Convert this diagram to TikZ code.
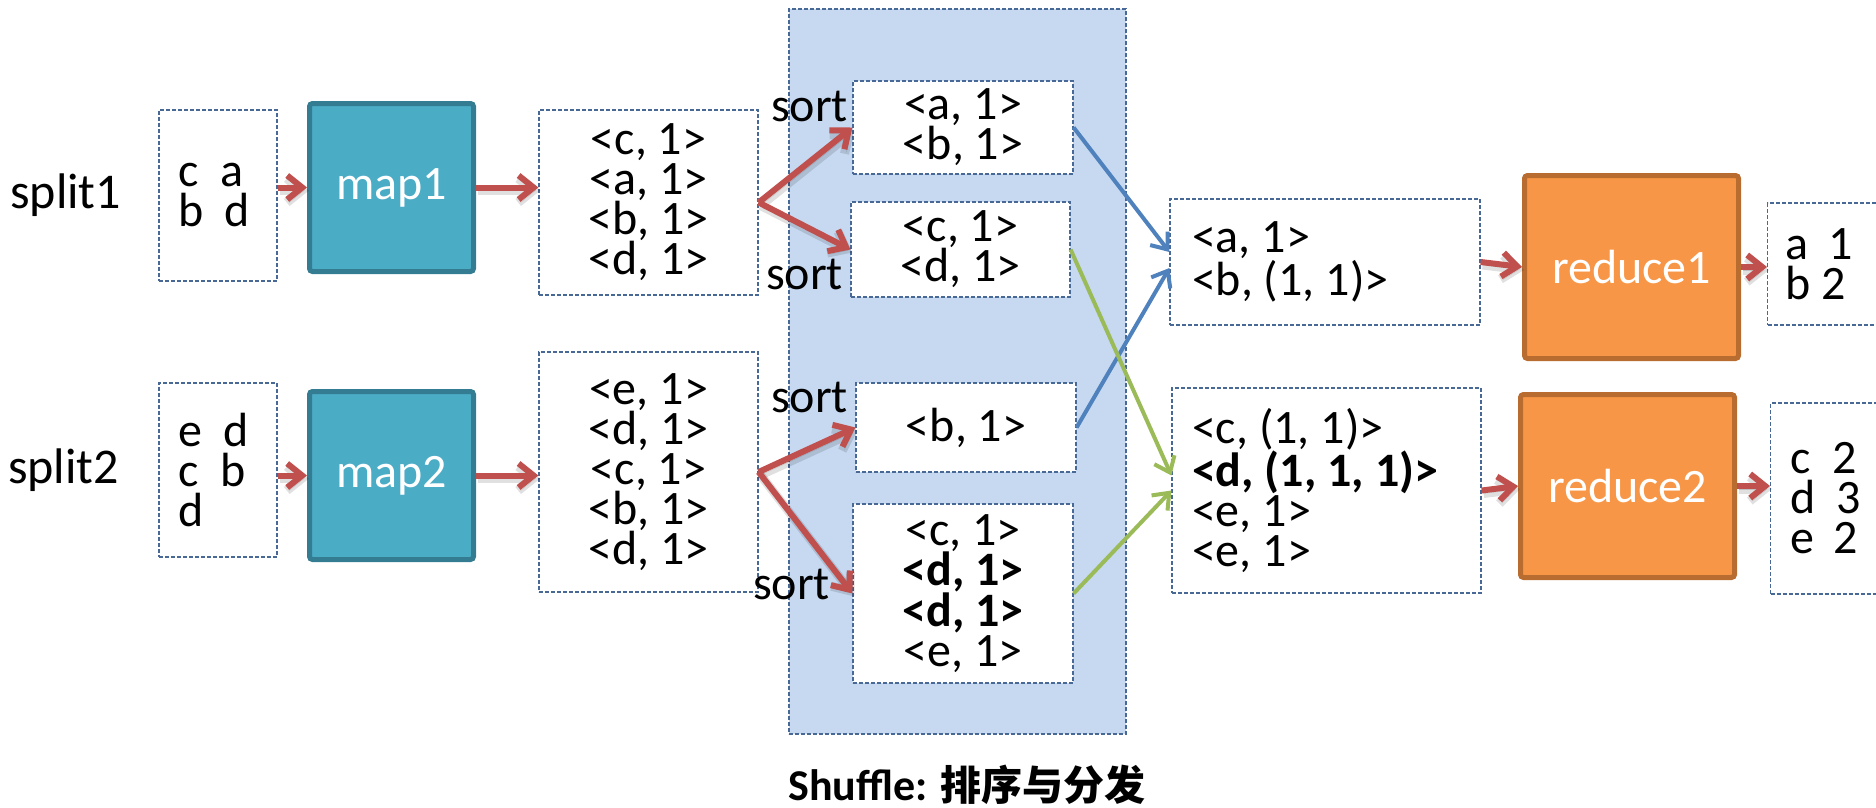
\documentclass[tikz,border=0pt]{standalone}
\usepackage{fontspec}
\setmainfont{Carlito}
\newfontfamily\cjk{Noto Sans CJK SC}
\usetikzlibrary{arrows.meta,calc}

\definecolor{dashblue}{RGB}{72,104,150}
\definecolor{shufflefill}{RGB}{198,217,241}
\definecolor{mapfill}{RGB}{75,172,198}
\definecolor{mapline}{RGB}{52,124,145}
\definecolor{redfill}{RGB}{247,150,70}
\definecolor{redline}{RGB}{184,108,48}
\definecolor{arrowred}{RGB}{192,80,77}
\definecolor{arrowblue}{RGB}{79,129,189}
\definecolor{arrowgreen}{RGB}{155,187,89}

\begin{document}
\begin{tikzpicture}[x=1pt,y=-1pt,
  every node/.style={font=\fontsize{48}{40}\selectfont, inner sep=0pt},
  dbox/.style={draw=dashblue, fill=white, line width=1.2pt, dash pattern=on 4pt off 2pt},
  leftbox/.style={dbox, align=flush left},
  centerbox/.style={dbox, align=center},
  mapbox/.style={draw=mapline, fill=mapfill, line width=5pt, rounded corners=3pt,
    text=white, minimum width=164pt, minimum height=168pt},
  reducebox/.style={draw=redline, fill=redfill, line width=5pt, rounded corners=3pt,
    text=white, minimum width=214pt, minimum height=183pt},
  softshadow/.style={preaction={draw=black, opacity=0.12, line width=9pt,
      transform canvas={shift={(2pt,-3pt)}}},
    preaction={draw=black, opacity=0.15, transform canvas={shift={(2pt,-3pt)}}}},
  redarrow/.style={softshadow, draw=arrowred, line width=6pt,
    -{Straight Barb[length=15pt,width=24pt]}},
  bluearrow/.style={draw=arrowblue, line width=4pt,
    -{Straight Barb[length=14pt,width=22pt]}},
  greenarrow/.style={draw=arrowgreen, line width=4pt,
    -{Straight Barb[length=14pt,width=22pt]}},
]
\useasboundingbox (0,0) rectangle (1876,808);
\clip (0,0) rectangle (1876,808);

% shuffle stage background
\node[draw=dashblue, fill=shufflefill, line width=1.2pt, dash pattern=on 4pt off 2pt,
  minimum width=337pt, minimum height=725pt] (shuffle) at (957.5,371.5) {};

% split labels
\node[anchor=base west, font=\fontsize{50}{40}\selectfont] (lsplit1) at (10,208) {split1};
\node[anchor=base west, font=\fontsize{50}{40}\selectfont] (lsplit2) at (8,483) {split2};

% input splits
\node[leftbox, minimum width=118pt, minimum height=171pt, text width=80pt]
  (split1) at (218,195.5) {c~~a\\b~~d};
\node[leftbox, minimum width=118pt, minimum height=174pt, text width=80pt]
  (split2) at (218,470) {e~~d\\c~~b\\d};

% map tasks
\node[mapbox] (map1) at (391.5,187.5) {map1};
\node[mapbox] (map2) at (391.5,475.5) {map2};

% map outputs
\node[centerbox, minimum width=219pt, minimum height=185pt]
  (mout1) at (648.5,202.5) {<c, 1>\\<a, 1>\\<b, 1>\\<d, 1>};
\node[centerbox, minimum width=219pt, minimum height=240pt]
  (mout2) at (648.5,472) {<e, 1>\\<d, 1>\\<c, 1>\\<b, 1>\\<d, 1>};

% sorted partitions
\node[centerbox, minimum width=220pt, minimum height=93pt]
  (sortA) at (963,127.5) {<a, 1>\\<b, 1>};
\node[centerbox, minimum width=219pt, minimum height=95pt]
  (sortB) at (960.5,249.5) {<c, 1>\\<d, 1>};
\node[centerbox, minimum width=220pt, minimum height=89pt]
  (sortC) at (966,427.5) {<b, 1>};
\node[centerbox, minimum width=220pt, minimum height=179pt]
  (sortD) at (963,593.5) {<c, 1>\\\textbf{<d, 1>}\\\textbf{<d, 1>}\\<e, 1>};

% sort labels
\node (sort1) at (809.5,106) {sort};
\node (sort2) at (804.5,274) {sort};
\node (sort3) at (809.5,397) {sort};
\node (sort4) at (791.5,584) {sort};

% reduce inputs
\node[leftbox, minimum width=310pt, minimum height=126pt, text width=266pt]
  (rin1) at (1325,262) {<a, 1>\\<b, (1, 1)>};
\node[leftbox, minimum width=309pt, minimum height=205pt, text width=269pt]
  (rin2) at (1326.5,490.5) {<c, (1, 1)>\\\textbf{<d, (1, 1, 1)>}\\<e, 1>\\<e, 1>};

% reduce tasks
\node[reducebox] (red1) at (1631.5,267) {reduce1};
\node[reducebox] (red2) at (1627.5,486) {reduce2};

% final outputs
\node[leftbox, anchor=west, minimum width=146pt, minimum height=122pt, text width=110pt]
  (out1) at (1767,264) {a\hspace{20pt}1\\b 2};
\node[leftbox, anchor=west, minimum width=150pt, minimum height=191pt, text width=110pt]
  (out2) at (1770,498.5) {c\hspace{22pt}2\\d\hspace{21pt}3\\e\hspace{19pt}2};

% caption
\node[anchor=base, font=\fontsize{44}{48}\selectfont\bfseries] (caption) at (967,800)
  {Shuffle: {\cjk\fontsize{41}{48}\selectfont 排序与分发}};

% map phase arrows
\draw[redarrow] (split1.east |- map1.west) -- (map1.west);
\draw[redarrow] (map1.east) -- (mout1.west |- map1.east);
\draw[redarrow] (split2.east |- map2.west) -- (map2.west);
\draw[redarrow] (map2.east) -- (mout2.west |- map2.east);

% sort arrows
\draw[redarrow] (mout1.east) -- (sortA.west);
\draw[redarrow] (mout1.east) -- (sortB.west);
\draw[redarrow] (mout2.east) -- (sortC.west);
\draw[redarrow] (mout2.east) -- (sortD.west);

% partition routing
\draw[bluearrow] (sortA.east) -- ([yshift=10pt]rin1.west);
\draw[bluearrow] (sortC.east) -- ([yshift=-6pt]rin1.west);
\draw[greenarrow] (sortB.east) -- ([yshift=15pt]rin2.west);
\draw[greenarrow] (sortD.east) -- (rin2.west);

% reduce phase arrows
\draw[redarrow] (rin1.east) -- (red1.west);
\draw[redarrow] (rin2.east) -- (red2.west);
\draw[redarrow] (red1.east) -- (out1.west |- red1.east);
\draw[redarrow] (red2.east) -- (out2.west |- red2.east);
\end{tikzpicture}
\end{document}
